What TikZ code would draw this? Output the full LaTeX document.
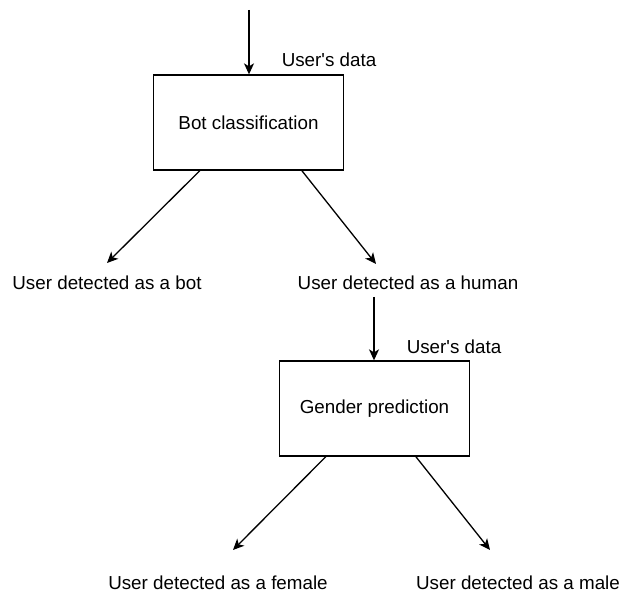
\documentclass[tikz,border=0pt]{standalone}
\usepackage{fontspec}
\setmainfont{Liberation Sans}[Ligatures=TeXOff]
\usetikzlibrary{arrows.meta}
\begin{document}
\begin{tikzpicture}[x=1pt,y=-1pt,
  font=\fontsize{18.8}{22}\selectfont,
  box/.style={draw, line width=1.3pt, minimum width=190pt, minimum height=95pt, inner sep=0pt},
  lbl/.style={inner sep=0pt},
  arr/.style={line width=1.3pt, -{Stealth[length=11pt,width=10pt,inset=3pt]}}]
\useasboundingbox (0,0) rectangle (625,593);
\coordinate (in) at (249,10);
\node[box] (bot) at (248.5,122.5) {Bot classification};
\node[lbl] (d1) at (329,60) {User's data};
\draw[arr] (in) -- (in |- bot.north);
\coordinate (t1) at (107,263);
\coordinate (t2) at (376,264);
\node[lbl] (botlbl) at (107,283) {User detected as a bot};
\node[lbl] (hum) at (408,283) {User detected as a human};
\draw[arr] ([xshift=47pt]bot.south west) -- (t1);
\draw[arr] ([xshift=149pt]bot.south west) -- (t2);
\node[box] (gen) at (374.5,408.5) {Gender prediction};
\node[lbl] (d2) at (454,347) {User's data};
\coordinate (h2) at (374,297);
\draw[arr] (h2) -- (h2 |- gen.north);
\coordinate (t3) at (233,550);
\coordinate (t4) at (490,550);
\draw[arr] ([xshift=47pt]gen.south west) -- (t3);
\draw[arr] ([xshift=137pt]gen.south west) -- (t4);
\node[lbl] (fem) at (218,583) {User detected as a female};
\node[lbl] (mal) at (518,583) {User detected as a male};
\end{tikzpicture}
\end{document}
